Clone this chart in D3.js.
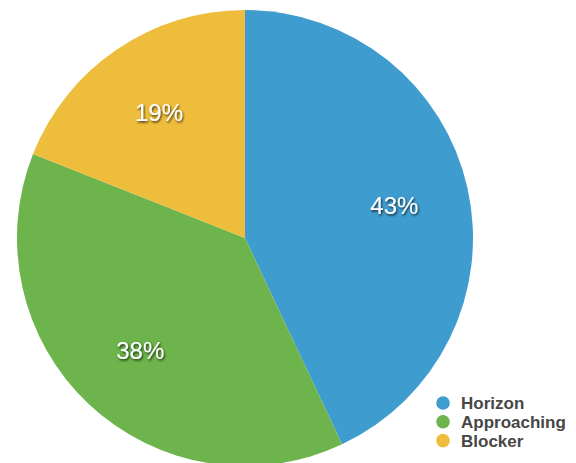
<!DOCTYPE html>
<html>
<head>
<meta charset="utf-8">
<script src="https://cdn.jsdelivr.net/npm/d3@7"></script>
<style>
  html, body { margin: 0; padding: 0; background: #fff; }
  svg { display: block; }
</style>
</head>
<body>
<svg id="chart" width="576" height="463"></svg>
<script>
// Share of items by status
const categories = ["Horizon", "Approaching", "Blocker"];
const values = [43, 38, 19];
const colors = ["#3f9ccf", "#6cb44b", "#efbd3c"];

const svg = d3.select("#chart");
const cx = 245, cy = 238, radius = 228;

const defs = svg.append("defs");
const shadow = defs.append("filter").attr("id", "label-shadow")
  .attr("x", "-20%").attr("y", "-20%").attr("width", "140%").attr("height", "160%");
shadow.append("feDropShadow")
  .attr("dx", 1).attr("dy", 1.5).attr("stdDeviation", 1)
  .attr("flood-color", "#000").attr("flood-opacity", 0.75);

const color = d3.scaleOrdinal().domain(categories).range(colors);

const pie = d3.pie().sort(null).value(d => d.value);
const data = pie(categories.map((c, i) => ({ name: c, value: values[i] })));

const arc = d3.arc().innerRadius(0).outerRadius(radius);
const labelArc = d3.arc().innerRadius(153).outerRadius(153);

const g = svg.append("g").attr("transform", `translate(${cx},${cy})`);

g.selectAll("path.slice")
  .data(data)
  .join("path")
  .attr("class", "slice")
  .attr("d", arc)
  .attr("fill", d => color(d.data.name));

g.selectAll("text.pct")
  .data(data)
  .join("text")
  .attr("class", "pct")
  .attr("transform", d => `translate(${labelArc.centroid(d)})`)
  .attr("text-anchor", "middle")
  .attr("dy", "0.4em")
  .attr("fill", "#fff")
  .attr("filter", "url(#label-shadow)")
  .style("font-family", "'Liberation Sans', Arial, sans-serif")
  .style("font-size", "24px")
  .text(d => d.data.value + "%");

// Legend
const legend = svg.append("g").attr("transform", "translate(443,403)");
const rows = legend.selectAll("g.row")
  .data(categories)
  .join("g")
  .attr("class", "row")
  .attr("transform", (d, i) => `translate(0,${i * 18.8})`);

rows.append("circle")
  .attr("r", 6.8)
  .attr("fill", d => color(d));

rows.append("text")
  .attr("x", 18)
  .attr("dy", "0.36em")
  .attr("fill", "#474747")
  .style("font-family", "'Liberation Sans', Arial, sans-serif")
  .style("font-weight", "bold")
  .style("font-size", "17px")
  .text(d => d);
</script>
</body>
</html>
